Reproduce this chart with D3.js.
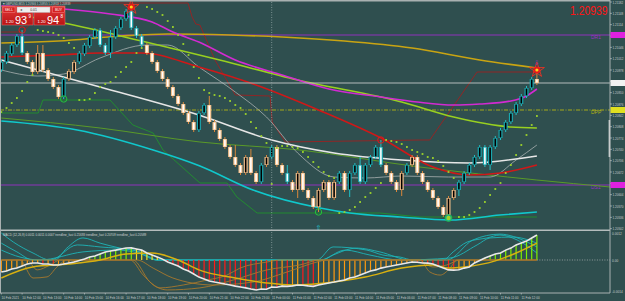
<!DOCTYPE html>
<html>
<head>
<meta charset="utf-8">
<script src="https://cdn.jsdelivr.net/npm/d3@7"></script>
<style>
  html, body { margin: 0; padding: 0; background: #2f4f4f; overflow: hidden; }
  svg { display: block; font-family: "Liberation Sans", Arial, sans-serif; }
</style>
</head>
<body>
<svg id="chart" width="625" height="301"></svg>
<script>
// GBPUSD M15, 10 Feb 11:00 .. 11 Feb 12:45
const open = [1.20978,1.21002,1.21026,1.21053,1.21080,1.21029,1.21002,1.20972,1.21029,1.20978,
  1.20951,1.20927,1.20897,1.20951,1.20972,1.21002,1.21026,1.21050,1.21077,1.21098,
  1.21053,1.21029,1.21077,1.21104,1.21131,1.21155,1.21104,1.21080,1.21053,1.21029,
  1.21002,1.20975,1.20951,1.20927,1.20900,1.20876,1.20849,1.20822,1.20798,1.20849,
  1.20873,1.20822,1.20798,1.20771,1.20747,1.20717,1.20693,1.20669,1.20717,1.20669,
  1.20642,1.20693,1.20717,1.20747,1.20693,1.20669,1.20642,1.20618,1.20669,1.20618,
  1.20594,1.20567,1.20618,1.20642,1.20594,1.20642,1.20669,1.20618,1.20669,1.20693,
  1.20642,1.20693,1.20717,1.20747,1.20693,1.20669,1.20642,1.20618,1.20669,1.20693,
  1.20717,1.20669,1.20642,1.20618,1.20594,1.20567,1.20543,1.20594,1.20618,1.20642,
  1.20669,1.20693,1.20717,1.20747,1.20693,1.20747,1.20774,1.20798,1.20822,1.20849,
  1.20876,1.20900,1.20924,1.20951]
const high = [1.21008,1.21035,1.21059,1.21086,1.21098,1.21035,1.21008,1.21053,1.21053,1.20984,
  1.20957,1.20933,1.20957,1.20981,1.21008,1.21035,1.21059,1.21083,1.21104,1.21104,
  1.21059,1.21098,1.21110,1.21137,1.21161,1.21167,1.21110,1.21086,1.21059,1.21035,
  1.21008,1.20981,1.20957,1.20933,1.20906,1.20882,1.20855,1.20828,1.20855,1.20879,
  1.20900,1.20828,1.20804,1.20777,1.20753,1.20753,1.20699,1.20723,1.20741,1.20675,
  1.20699,1.20723,1.20753,1.20753,1.20699,1.20693,1.20648,1.20675,1.20675,1.20624,
  1.20600,1.20624,1.20648,1.20648,1.20648,1.20675,1.20675,1.20675,1.20699,1.20717,
  1.20699,1.20723,1.20753,1.20768,1.20699,1.20675,1.20648,1.20675,1.20699,1.20723,
  1.20723,1.20675,1.20648,1.20624,1.20600,1.20573,1.20600,1.20624,1.20648,1.20675,
  1.20699,1.20723,1.20753,1.20753,1.20753,1.20780,1.20804,1.20828,1.20855,1.20882,
  1.20906,1.20930,1.20957,1.20978]
const low = [1.20972,1.20996,1.21020,1.21047,1.21023,1.20996,1.20966,1.20966,1.20972,1.20945,
  1.20921,1.20891,1.20891,1.20945,1.20966,1.20996,1.21020,1.21044,1.21071,1.21047,
  1.21023,1.21014,1.21071,1.21098,1.21125,1.21098,1.21074,1.21047,1.21023,1.20996,
  1.20969,1.20945,1.20921,1.20894,1.20870,1.20843,1.20816,1.20792,1.20792,1.20843,
  1.20816,1.20792,1.20765,1.20741,1.20711,1.20687,1.20663,1.20663,1.20663,1.20636,
  1.20636,1.20687,1.20711,1.20687,1.20663,1.20636,1.20612,1.20594,1.20612,1.20588,
  1.20561,1.20552,1.20612,1.20588,1.20588,1.20636,1.20612,1.20597,1.20663,1.20636,
  1.20636,1.20687,1.20711,1.20687,1.20663,1.20636,1.20612,1.20600,1.20663,1.20687,
  1.20663,1.20636,1.20612,1.20588,1.20561,1.20537,1.20534,1.20588,1.20600,1.20636,
  1.20663,1.20687,1.20711,1.20687,1.20678,1.20741,1.20768,1.20792,1.20816,1.20843,
  1.20870,1.20894,1.20918,1.20933]
const close = [1.21002,1.21029,1.21053,1.21080,1.21029,1.21002,1.20972,1.21029,1.20978,1.20951,
  1.20927,1.20897,1.20951,1.20975,1.21002,1.21029,1.21053,1.21077,1.21098,1.21053,
  1.21029,1.21077,1.21104,1.21131,1.21155,1.21104,1.21080,1.21053,1.21029,1.21002,
  1.20975,1.20951,1.20927,1.20900,1.20876,1.20849,1.20822,1.20798,1.20849,1.20873,
  1.20822,1.20798,1.20771,1.20747,1.20717,1.20693,1.20669,1.20717,1.20669,1.20642,
  1.20693,1.20717,1.20747,1.20693,1.20669,1.20642,1.20618,1.20669,1.20618,1.20594,
  1.20567,1.20618,1.20642,1.20594,1.20642,1.20669,1.20618,1.20669,1.20693,1.20642,
  1.20693,1.20717,1.20747,1.20693,1.20669,1.20642,1.20618,1.20669,1.20693,1.20717,
  1.20669,1.20642,1.20618,1.20594,1.20567,1.20543,1.20594,1.20618,1.20642,1.20669,
  1.20693,1.20717,1.20747,1.20693,1.20747,1.20774,1.20798,1.20822,1.20849,1.20876,
  1.20900,1.20924,1.20951,1.20939]
// heiken ashi trend per bar (1 up, 0 down)
const haUp = [1,1,1,1,1,0,0,0,0,0, 0,0,1,0,0,1,1,1,1,1, 1,1,1,1,1,1,1,1,0,0,
  0,0,0,0,0,0,0,0,1,1, 0,0,0,0,0,0,0,0,0,0, 1,0,1,0,0,1,0,0,0,0,
  0,0,0,0,0,1,0,1,1,1, 1,1,1,1,0,0,0,0,1,0, 0,0,0,0,0,0,0,0,1,1,
  1,1,1,1,1,1,1,1,1,1, 1,1,1,0]
const sar = [1.20852,1.20864,1.20879,1.20894,1.20915,1.20942,1.20963,1.21098,1.21095,1.21092,
  1.21089,1.21083,1.21074,1.21059,1.21044,1.20888,1.20888,1.20891,1.20909,1.20927,
  1.20936,1.20942,1.20957,1.20972,1.20987,1.21002,1.21029,1.21044,1.21167,1.21161,
  1.21152,1.21143,1.21125,1.21107,1.21083,1.21056,1.21023,1.20987,1.20954,1.20918,
  1.20909,1.20903,1.20900,1.20894,1.20885,1.20873,1.20864,1.20846,1.20822,1.20804,
  1.20780,1.20759,1.20636,1.20744,1.20750,1.20750,1.20747,1.20744,1.20732,1.20717,
  1.20702,1.20687,1.20672,1.20660,1.20654,1.20549,1.20552,1.20558,1.20567,1.20582,
  1.20597,1.20609,1.20624,1.20639,1.20768,1.20765,1.20762,1.20756,1.20747,1.20738,
  1.20732,1.20726,1.20717,1.20714,1.20705,1.20690,1.20672,1.20654,1.20537,1.20537,
  1.20543,1.20552,1.20564,1.20582,1.20603,1.20621,1.20639,1.20669,1.20693,1.20723,
  1.20753,1.20783,1.20813,1.20840]

// moving averages and channels: [bar, price]
const maMagenta = [[0,1.21170],[12,1.21161],[21,1.21146],[29,1.21122],[33,1.21092],[38,1.21062],[45,1.21008],[54,1.20963],[63,1.20921],[73,1.20897],[80,1.20882],[87,1.20873],[92,1.20876],[98,1.20885],[101,1.20900],[103,1.20921]]
const maLime = [[0,1.21152],[12,1.21119],[27,1.21065],[42,1.21008],[57,1.20948],[77,1.20882],[87,1.20837],[98,1.20807],[103,1.20804]]
const maGold = [[0,1.21059],[11,1.21065],[23,1.21080],[32,1.21086],[44,1.21083],[54,1.21077],[66,1.21065],[79,1.21044],[92,1.21008],[103,1.20984]]
const maWhite = [[0,1.21008],[19,1.20927],[38,1.20843],[52,1.20768],[64,1.20729],[77,1.20708],[90,1.20699],[103,1.20720]]
const maRed = [[0,1.21017],[11,1.21023],[19,1.21029],[27,1.21029],[38,1.20987],[49,1.20933],[61,1.20858],[73,1.20774],[83,1.20687],[90,1.20663],[96,1.20669],[103,1.20693]]
const maGray = [[0,1.20978],[7,1.20960],[12,1.20966],[19,1.21014],[28,1.21053],[32,1.21053],[38,1.20987],[45,1.20912],[51,1.20837],[57,1.20729],[64,1.20657],[70,1.20654],[77,1.20660],[86,1.20657],[94,1.20657],[99,1.20708],[103,1.20753]]
const maCyan = [[0,1.20825],[14.6,1.20798],[29.2,1.20738],[38.2,1.20690],[48.4,1.20618],[61.3,1.20564],[67,1.20549],[76.7,1.20537],[86.3,1.20528],[95.9,1.20543],[103,1.20552]]
const maOlive = [[0,1.20834],[19,1.20804],[38.2,1.20762],[57.4,1.20738],[80.5,1.20687],[103,1.20648],[117.1,1.20627]]
const chanUpper = [[0,1.21092],[4,1.21092],[8.4,1.21158],[11.3,1.21179],[35.9,1.21179],[36.7,1.21137],[37.4,1.21116],[38.2,1.21113],[41.1,1.21008],[45,1.20903],[51.7,1.20900],[52.1,1.20822],[54.6,1.20762],[80.5,1.20768],[82.4,1.20768],[91.5,1.20972],[103,1.20972]]
const chanLower = [[0,1.20849],[7.1,1.20849],[8,1.20888],[20.9,1.20888],[25.3,1.20813],[29.2,1.20789],[31.1,1.20738],[38.2,1.20639],[43.4,1.20639],[45.3,1.20597],[49.2,1.20549],[72.8,1.20549],[80.5,1.20537],[103,1.20537]]

const pivotR1 = 1.21083
const pivotPP = 1.20858
const pivotS1 = 1.20633
const lastPrice = 1.20939

const fractalUp = [4, 73]
const fractalUpStar = [25, 103]
const fractalDown = [12, 61]
const fractalDownGlow = [86]
const arrowUpBars = [61]
const arrowDownBars = [103]

// MACD pane
const macd = [-0.00053,-0.00049,-0.00040,-0.00036,-0.00027,-0.00018,-0.00013,-0.00013,-0.00018,-0.00018,
  -0.00022,-0.00022,-0.00018,-0.00013,-0.00009,-0.00002,0.00004,0.00013,0.00018,0.00027,
  0.00036,0.00040,0.00044,0.00049,0.00053,0.00054,0.00049,0.00044,0.00031,0.00022,
  0.00013,0.00004,-0.00009,-0.00018,-0.00027,-0.00040,-0.00049,-0.00062,-0.00076,-0.00084,
  -0.00093,-0.00098,-0.00102,-0.00107,-0.00111,-0.00116,-0.00120,-0.00124,-0.00129,-0.00133,
  -0.00129,-0.00130,-0.00120,-0.00121,-0.00116,-0.00117,-0.00115,-0.00111,-0.00112,-0.00115,
  -0.00117,-0.00111,-0.00107,-0.00102,-0.00098,-0.00093,-0.00089,-0.00080,-0.00076,-0.00067,
  -0.00058,-0.00049,-0.00044,-0.00036,-0.00031,-0.00027,-0.00022,-0.00018,-0.00013,-0.00009,
  -0.00010,-0.00013,-0.00014,-0.00018,-0.00027,-0.00036,-0.00044,-0.00045,-0.00043,-0.00036,
  -0.00031,-0.00013,-0.00002,0.00009,0.00018,0.00027,0.00031,0.00044,0.00053,0.00067,
  0.00076,0.00084,0.00098,0.00111]
const macdSignal = [[0,-0.00080],[6,-0.00031],[13,-0.00018],[19,0],[24,0.00027],[29,0.00031],[34,0],[38,-0.00044],[45,-0.00080],[51,-0.00102],[56,-0.00111],[64,-0.00098],[70,-0.00076],[77,-0.00036],[83,-0.00022],[86,-0.00036],[89,-0.00031],[95,-0.00004],[99,0.00031],[103,0.00075]]
const trendFastUp = [
  [[0,0.00075],[3,0.00036],[6.1,0],[10.3,0],[12.6,0.00053],[15.7,0.00098],[19,0.00075],[22.8,0.00053],[26.7,0.00036],[29.9,0],[60.7,0],[63.8,0.00058],[70.3,0.00044],[73.4,0.00022],[76.7,0.00013],[79.2,0],[85,0],[86.9,0.00036],[89.6,0.00080],[93.4,0.00098],[95.9,0.00111],[99.2,0.00089],[103,0.00031]],
  [[0,0.00120],[2.3,0.00080],[6.1,0.00031],[9.4,0],[14.6,0.00067],[19,0.00058],[25.3,0.00044],[29.9,0],[61.7,0],[63.8,0.00022],[68.4,0.00053],[72.8,0.00036],[78.6,0],[85.7,0],[90.7,0.00089],[95.9,0.00115],[101.1,0.00080],[103,0.00058]],
  [[0,0.00044],[3.6,0.00013],[7.4,0],[15.7,0.00036],[22.3,0.00044],[28.6,0.00013],[29.9,0],[61.3,0],[66.1,0.00044],[70.9,0.00022],[76.7,0],[86.3,0.00009],[91.5,0.00067],[94,0.00098],[98.4,0.00102],[103,0.00075]]
]
const trendFastDown = [
  [[0,0],[3.6,0],[6.1,-0.00080],[8.8,-0.00075],[10.7,-0.00031],[12.6,0],[24.8,0],[27.3,-0.00067],[30.5,-0.00124],[35,-0.00111],[39.6,-0.00089],[43.4,-0.00067],[45.9,-0.00036],[51.1,-0.00009],[53.6,0],[80.5,0],[82.4,-0.00053],[84.4,-0.00067],[86.3,-0.00036],[87.6,0],[103,0]],
  [[0,0],[4.9,0],[6.9,-0.00044],[9.4,-0.00022],[11.3,0],[25.3,0],[28.6,-0.00098],[31.9,-0.00133],[38.2,-0.00124],[44.6,-0.00089],[51.1,-0.00044],[57.4,-0.00022],[61.3,0],[80.5,0],[81.1,-0.00009],[83,-0.00031],[85.7,-0.00022],[88.2,0],[103,0]],
  [[0,0],[26.1,0],[29.2,-0.00036],[33,-0.00080],[40.7,-0.00111],[48.4,-0.00098],[55,-0.00053],[60.7,-0.00009],[62.6,0],[103,0]]
]

const priceTicks = [1.21182,1.21148,1.21114,1.21080,1.21046,1.21012,1.20978,1.20944,1.20910,1.20876,1.20842,
  1.20808,1.20774,1.20740,1.20706,1.20672,1.20638,1.20604,1.20570,1.20536,1.20502]
const macdTicks = [0.0012, 0, -0.0014]
const macdTickLabels = ["0.0012", "0.00", "-0.0014"]
const timeLabels = ["10 Feb 2021","10 Feb 12:00","10 Feb 13:00","10 Feb 14:00","10 Feb 15:00","10 Feb 16:00",
  "10 Feb 17:00","10 Feb 18:00","10 Feb 19:00","10 Feb 20:00","10 Feb 21:00","10 Feb 22:00","10 Feb 23:00",
  "11 Feb 00:00","11 Feb 01:00","11 Feb 02:00","11 Feb 03:00","11 Feb 04:00","11 Feb 05:00","11 Feb 06:00",
  "11 Feb 07:00","11 Feb 08:00","11 Feb 09:00","11 Feb 10:00","11 Feb 11:00","11 Feb 12:00"]
const dayBreakBar = 52

const svg = d3.select("#chart")
const W = 625
const H = 301
const right = 610
const mainTop = 2
const mainBottom = 229
const subTop = 231
const subBottom = 293

const x = d3.scaleLinear().domain([0, 103]).range([1.3, 536.9])
const y = d3.scaleLinear().domain([1.20501, 1.21182]).range([mainBottom, mainTop])
const ym = d3.scaleLinear().domain([-0.0014, 0.0012]).range([291.5, 233])

svg.append("rect").attr("width", W).attr("height", H).attr("fill", "#2f4f4f")

const defs = svg.append("defs")
defs.append("clipPath").attr("id", "clipMain").append("rect")
  .attr("x", 0).attr("y", 1).attr("width", right).attr("height", mainBottom + 1)
defs.append("clipPath").attr("id", "clipSub").append("rect")
  .attr("x", 0).attr("y", subTop).attr("width", right).attr("height", subBottom - subTop)
const grad = defs.append("linearGradient").attr("id", "redGrad").attr("x1", 0).attr("x2", 0).attr("y1", 0).attr("y2", 1)
grad.append("stop").attr("offset", 0).attr("stop-color", "#e43a3a")
grad.append("stop").attr("offset", 1).attr("stop-color", "#b81414")

// small text squeezed horizontally, the way the terminal draws it
const tinyText = (sel, tx, ty, sx, size, fill, str) =>
  sel.append("text").attr("transform", `translate(${tx},${ty}) scale(${sx},1)`)
    .attr("font-size", size).attr("fill", fill).text(str)

const gMain = svg.append("g").attr("clip-path", "url(#clipMain)")

// day separator
svg.append("line")
  .attr("x1", x(dayBreakBar)).attr("x2", x(dayBreakBar))
  .attr("y1", mainTop).attr("y2", subBottom)
  .attr("stroke", "#8fa3a3").attr("stroke-width", 0.8).attr("stroke-dasharray", "1,1.5")

// pivots
const pivots = [
  {v: pivotR1, name: "DR1", color: "#9b30c8", dash: null},
  {v: pivotPP, name: "DPP", color: "#b4b414", dash: "4,1.5,1,1.5"},
  {v: pivotS1, name: "DS1", color: "#9b30c8", dash: null},
]
gMain.selectAll("line.pivot").data(pivots).join("line")
  .attr("x1", 0).attr("x2", right)
  .attr("y1", (d) => y(d.v)).attr("y2", (d) => y(d.v))
  .attr("stroke", (d) => d.color).attr("stroke-width", 0.9)
  .attr("stroke-dasharray", (d) => d.dash)
gMain.selectAll("text.pivot").data(pivots).join("text")
  .attr("x", 591).attr("y", (d) => y(d.v) + 4.2)
  .attr("font-size", 5).attr("fill", (d) => d.color)
  .text((d) => d.name)

const lineOf = (curve) => d3.line().x((d) => x(d[0])).y((d) => y(d[1])).curve(curve)
const drawLine = (data, color, width, curve) =>
  gMain.append("path").attr("d", lineOf(curve)(data))
    .attr("fill", "none").attr("stroke", color).attr("stroke-width", width)
    .attr("stroke-linejoin", "round")

drawLine(chanUpper, "#a81c1c", 0.8, d3.curveLinear)
drawLine(chanLower, "#1f9a2a", 0.8, d3.curveLinear)
drawLine(maOlive, "#5a9a28", 1, d3.curveMonotoneX)
drawLine(maGray, "#a8b0b0", 0.8, d3.curveMonotoneX)
drawLine(maGold, "#c9a412", 1.6, d3.curveMonotoneX)
drawLine(maLime, "#98d020", 1.6, d3.curveMonotoneX)
drawLine(maMagenta, "#d22ad2", 1.6, d3.curveMonotoneX)
drawLine(maCyan, "#10c8cc", 1.6, d3.curveMonotoneX)
drawLine(maWhite, "#e6e6e6", 1.6, d3.curveMonotoneX)
drawLine(maRed, "#d01818", 1.6, d3.curveMonotoneX)

// current price line
gMain.append("line").attr("x1", 0).attr("x2", right)
  .attr("y1", y(lastPrice)).attr("y2", y(lastPrice))
  .attr("stroke", "#c4c8c8").attr("stroke-width", 0.9)

// candles
const bars = d3.range(open.length).map((i) => ({
  i, o: open[i], h: high[i], l: low[i], c: close[i], up: haUp[i] === 1,
}))
const outerColor = (d) => (d.up ? "#19a7ae" : "#f6c18c")
const wickColor = (d) => (d.up ? "#22c0c6" : "#d9873a")
const cg = gMain.append("g")
cg.selectAll("line.wick").data(bars).join("line")
  .attr("x1", (d) => x(d.i)).attr("x2", (d) => x(d.i))
  .attr("y1", (d) => y(d.h)).attr("y2", (d) => y(d.l))
  .attr("stroke", wickColor).attr("stroke-width", 1)
cg.selectAll("rect.body").data(bars).join("rect")
  .attr("x", (d) => x(d.i) - 2).attr("width", 4)
  .attr("y", (d) => y(Math.max(d.o, d.c)))
  .attr("height", (d) => Math.max(1, Math.abs(y(d.o) - y(d.c))))
  .attr("fill", outerColor)
cg.selectAll("rect.inner").data(bars).join("rect")
  .attr("x", (d) => x(d.i) - 0.8).attr("width", 1.6)
  .attr("y", (d) => y(Math.max(d.o, d.c)) + 0.6)
  .attr("height", (d) => Math.max(0.4, Math.abs(y(d.o) - y(d.c)) - 1.2))
  .attr("fill", (d) => (d.c >= d.o ? "#000000" : "#ffffff"))

// parabolic sar
gMain.selectAll("rect.sar").data(sar).join("rect")
  .attr("x", (d, i) => x(i) - 0.9).attr("y", (d) => y(d) - 0.9)
  .attr("width", 1.8).attr("height", 1.8).attr("fill", "#9ed42a")

// fractal markers
gMain.selectAll("circle.fu").data(fractalUp).join("circle")
  .attr("cx", (i) => x(i)).attr("cy", (i) => y(high[i]))
  .attr("r", 3.2).attr("fill", "none").attr("stroke", "#e01a1a").attr("stroke-width", 1)
fractalUpStar.forEach((i) => {
  const g = gMain.append("g").attr("transform", `translate(${x(i)},${y(high[i])})`)
  g.append("circle").attr("r", 3.6).attr("fill", "#e01a1a")
  g.append("circle").attr("r", 1.6).attr("fill", "#ffd21a")
  g.append("path").attr("d", d3.symbol(d3.symbolStar, 70)()).attr("fill", "none")
    .attr("stroke", "#ff3020").attr("stroke-width", 0.8)
})
gMain.selectAll("circle.fd").data(fractalDown).join("circle")
  .attr("cx", (i) => x(i)).attr("cy", (i) => y(low[i]))
  .attr("r", 3.2).attr("fill", "none").attr("stroke", "#22c43a").attr("stroke-width", 1)
fractalDownGlow.forEach((i) => {
  const g = gMain.append("g").attr("transform", `translate(${x(i)},${y(low[i])})`)
  g.append("circle").attr("r", 3.6).attr("fill", "#1ab0b0").attr("opacity", 0.8)
  g.append("circle").attr("r", 2.2).attr("fill", "#9ed42a")
  g.append("circle").attr("r", 3.4).attr("fill", "none").attr("stroke", "#22c43a").attr("stroke-width", 0.8)
})
gMain.selectAll("text.au").data(arrowUpBars).join("text")
  .attr("x", (i) => x(i)).attr("y", (i) => y(low[i]) + 18)
  .attr("text-anchor", "middle").attr("font-size", 7).attr("fill", "#1ec8d0")
  .attr("font-family", "DejaVu Sans").text("⇧")
gMain.selectAll("text.ad").data(arrowDownBars).join("text")
  .attr("x", (i) => x(i)).attr("y", (i) => y(high[i]) - 5)
  .attr("text-anchor", "middle").attr("font-size", 7).attr("fill", "#8a3aa8")
  .attr("font-family", "DejaVu Sans").text("⇩")

// MACD pane
const gSub = svg.append("g").attr("clip-path", "url(#clipSub)")
const lineSub = d3.line().x((d) => x(d[0])).y((d) => ym(d[1])).curve(d3.curveMonotoneX)
gSub.append("line").attr("x1", x(103)).attr("x2", right)
  .attr("y1", ym(0)).attr("y2", ym(0))
  .attr("stroke", "#a8b0b0").attr("stroke-width", 0.8).attr("stroke-dasharray", "1,1.5")
trendFastUp.forEach((s) => {
  gSub.append("path").attr("d", lineSub(s)).attr("fill", "none")
    .attr("stroke", "#1eb4b8").attr("stroke-width", 0.9)
})
const histColor = (v, i) => {
  const prev = i > 0 ? macd[i - 1] : v
  if (v >= 0) return v >= prev ? "#7cf000" : "#f0e020"
  return v < prev ? "#ff1a1a" : "#ff9a10"
}
gSub.selectAll("line.hist").data(macd).join("line")
  .attr("x1", (d, i) => x(i)).attr("x2", (d, i) => x(i))
  .attr("y1", ym(0)).attr("y2", (d) => ym(d))
  .attr("stroke", histColor).attr("stroke-width", 1.2)
trendFastDown.forEach((s) => {
  gSub.append("path").attr("d", lineSub(s)).attr("fill", "none")
    .attr("stroke", "#a8782c").attr("stroke-width", 0.9)
})
gSub.append("path").attr("d", lineSub(macdSignal)).attr("fill", "none")
  .attr("stroke", "#d8b010").attr("stroke-width", 1.5)
gSub.append("path")
  .attr("d", d3.line().x((d, i) => x(i)).y((d) => ym(d))(macd))
  .attr("fill", "none").attr("stroke", "#e8e8e8").attr("stroke-width", 1.6)

tinyText(svg, 3, 236.3, 0.72, 4.2, "#d0d4d4",
  "MACD (12,26,9) 0.0011 0.0011 0.0007  trendline_fast 0.21693  trendline_fast 0.20709  trendline_fast 0.20589")

// frame
svg.append("line").attr("x1", 0).attr("x2", right).attr("y1", 0.7).attr("y2", 0.7)
  .attr("stroke", "#a9b1b1").attr("stroke-width", 1.4)
svg.append("line").attr("x1", 0).attr("x2", right).attr("y1", 230.3).attr("y2", 230.3)
  .attr("stroke", "#b4bcbc").attr("stroke-width", 1.4)
svg.append("line").attr("x1", 0).attr("x2", right).attr("y1", subBottom).attr("y2", subBottom)
  .attr("stroke", "#a9b1b1").attr("stroke-width", 1)
svg.append("line").attr("x1", right).attr("x2", right).attr("y1", 0).attr("y2", subBottom)
  .attr("stroke", "#a9b1b1").attr("stroke-width", 1)
svg.append("line").attr("x1", 0.5).attr("x2", 0.5).attr("y1", 0).attr("y2", subBottom)
  .attr("stroke", "#a9b1b1").attr("stroke-width", 1)
svg.append("rect").attr("x", 608.6).attr("y", 120).attr("width", 1.6).attr("height", 37)
  .attr("fill", "#c8cccc")

// price axis
const axisTxt = "#c6cccc"
const boxes = [
  {v: pivotR1, fill: "#e020e0", text: "#ffffff"},
  {v: lastPrice, fill: "#f2f2f2", text: "#000000"},
  {v: pivotPP, fill: "#e0e020", text: "#000000"},
  {v: pivotS1, fill: "#e020e0", text: "#ffffff"},
]
const freeTicks = priceTicks.filter((t) => boxes.every((b) => Math.abs(y(t) - y(b.v)) > 5))
svg.selectAll("line.ptk").data(priceTicks).join("line")
  .attr("x1", right).attr("x2", right + 2).attr("y1", (d) => y(d)).attr("y2", (d) => y(d))
  .attr("stroke", axisTxt).attr("stroke-width", 0.6)
const axisG = svg.append("g")
freeTicks.forEach((t) => tinyText(axisG, 612.5, Math.max(4.4, y(t) + 1.5), 0.76, 4, axisTxt, t.toFixed(5)))
svg.selectAll("rect.pb").data(boxes).join("rect")
  .attr("x", right + 0.5).attr("y", (d) => y(d.v) - 3).attr("width", W - right).attr("height", 6)
  .attr("fill", (d) => d.fill)
boxes.forEach((b) => tinyText(axisG, 612.5, y(b.v) + 1.5, 0.76, 4, b.text, b.v.toFixed(5)))

// macd axis
macdTicks.forEach((t, i) => tinyText(axisG, 612, ym(t) + 1.5, 0.8, 4, axisTxt, macdTickLabels[i]))

// time axis
timeLabels.forEach((s, k) => tinyText(axisG, x(k * 4) + 0.2, 298.8, 0.78, 4, axisTxt, s))
svg.selectAll("line.tt").data(timeLabels).join("line")
  .attr("x1", (d, k) => x(k * 4)).attr("x2", (d, k) => x(k * 4))
  .attr("y1", subBottom).attr("y2", subBottom + 1.5)
  .attr("stroke", axisTxt).attr("stroke-width", 0.6)

// big price label
svg.append("text").attr("transform", "translate(570,15.3) scale(1,1.28)")
  .attr("font-size", 10.4).attr("fill", "#ff1414")
  .text(lastPrice.toFixed(5))

// symbol header
tinyText(svg, 3, 4.6, 0.78, 3.8, "#c8cccc", "▾ GBPUSD,M15  1.20946 1.20955 1.20933 1.20939")

// one-click trade panel
const panel = svg.append("g")
const halves = [
  {x0: 2, btn: "SELL", big: "93", sup: "9"},
  {x0: 34, btn: "BUY", big: "94", sup: "8"},
]
halves.forEach((h) => {
  panel.append("rect").attr("x", h.x0).attr("y", 6).attr("width", 31).attr("height", 19)
    .attr("fill", "url(#redGrad)").attr("stroke", "#f07070").attr("stroke-width", 0.5)
  panel.append("text").attr("x", h.x0 + 3.5).attr("y", 22.5).attr("font-size", 4.2)
    .attr("fill", "#ffffff").text("1.20")
  panel.append("text").attr("x", h.x0 + 13).attr("y", 23.5).attr("font-size", 11)
    .attr("fill", "#ffffff").text(h.big)
  panel.append("text").attr("x", h.x0 + 26.5).attr("y", 17.5).attr("font-size", 4.5)
    .attr("fill", "#ffffff").text(h.sup)
})
panel.append("rect").attr("x", 3).attr("y", 7).attr("width", 12).attr("height", 5.5)
  .attr("fill", "#d42222").attr("stroke", "#ffa0a0").attr("stroke-width", 0.4)
panel.append("text").attr("x", 9).attr("y", 11).attr("text-anchor", "middle")
  .attr("font-size", 3.4).attr("fill", "#ffffff").text("SELL")
panel.append("rect").attr("x", 52.5).attr("y", 7).attr("width", 12).attr("height", 5.5)
  .attr("fill", "#d42222").attr("stroke", "#ffa0a0").attr("stroke-width", 0.4)
panel.append("text").attr("x", 58.5).attr("y", 11).attr("text-anchor", "middle")
  .attr("font-size", 3.4).attr("fill", "#ffffff").text("BUY")
panel.append("rect").attr("x", 17).attr("y", 7).attr("width", 33).attr("height", 5.5)
  .attr("fill", "#eeeeee").attr("stroke", "#b0b0b0").attr("stroke-width", 0.4)
panel.append("text").attr("x", 19.5).attr("y", 11.2).attr("font-size", 3.6)
  .attr("fill", "#555555").text("◂")
panel.append("text").attr("x", 33.5).attr("y", 11.2).attr("text-anchor", "middle")
  .attr("font-size", 3.4).attr("fill", "#333333").text("0.01")
</script>
</body>
</html>
